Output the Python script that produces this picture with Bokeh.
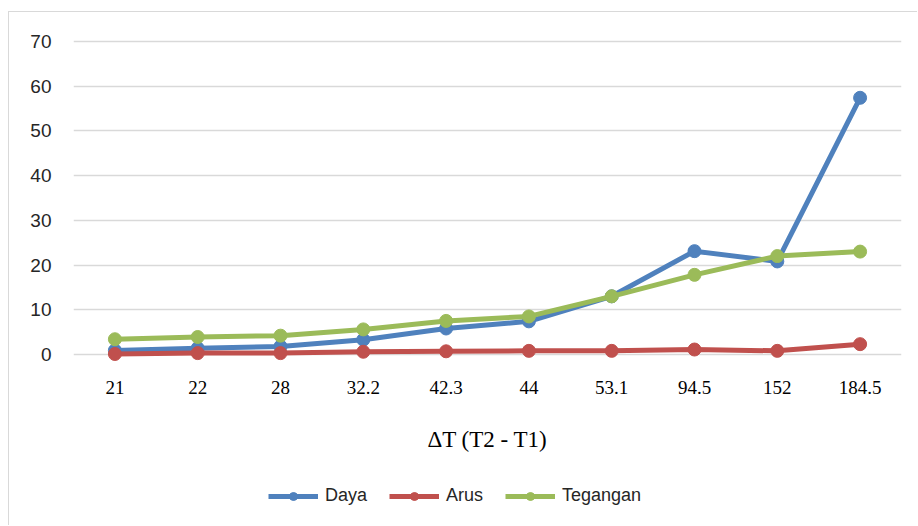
from bokeh.plotting import figure
from bokeh.models import FactorRange, Range1d, FixedTicker, Legend, LegendItem, Label
from bokeh.core.properties import value
from bokeh.embed import file_html
from bokeh.resources import INLINE

categories = ["21", "22", "28", "32.2", "42.3", "44", "53.1", "94.5", "152", "184.5"]
daya = [0.9, 1.4, 1.8, 3.3, 5.8, 7.4, 13.0, 23.1, 20.8, 57.4]
arus = [0.1, 0.3, 0.3, 0.6, 0.7, 0.8, 0.8, 1.1, 0.8, 2.3]
tegangan = [3.4, 3.9, 4.2, 5.6, 7.5, 8.5, 13.0, 17.8, 22.0, 23.0]
y_ticks = [0, 10, 20, 30, 40, 50, 60, 70]
series_names = ["Daya", "Arus", "Tegangan"]
colors = ["#4F81BD", "#C0504D", "#9BBB59"]
x_title = "\u0394T (T2 - T1)"

PX_PER_UNIT = 4.4714
FRAME_H = 494
Y_TOP = 72

p = figure(width=909, height=514,
           x_range=FactorRange(*categories, range_padding=0, factor_padding=0),
           y_range=Range1d(Y_TOP - FRAME_H / PX_PER_UNIT, Y_TOP),
           output_backend="svg", toolbar_location=None,
           min_border_left=64, min_border_right=17,
           min_border_top=20, min_border_bottom=0)
p.styles = {"margin-left": "8px", "margin-top": "11px",
            "border-left": "1px solid #d9d9d9", "border-top": "1px solid #d9d9d9"}
p.outline_line_color = None
p.background_fill_color = "white"
p.border_fill_color = "white"

p.xgrid.grid_line_color = None
p.ygrid.grid_line_color = "#D9D9D9"
p.ygrid.grid_line_width = 1.3

p.yaxis.ticker = FixedTicker(ticks=y_ticks)
p.yaxis.axis_line_color = None
p.yaxis.major_tick_line_color = None
p.yaxis.minor_tick_line_color = None
p.yaxis.major_tick_out = 0
p.yaxis.major_label_standoff = 22
p.yaxis.major_label_text_font = "Liberation Sans"
p.yaxis.major_label_text_font_size = "19px"
p.yaxis.major_label_text_color = "#262626"

p.xaxis.visible = False

# category labels drawn through the categorical x scale
p.text(x=categories, y=[-7.4] * len(categories), text=categories,
       text_align="center", text_baseline="middle",
       text_font=value("Liberation Serif"), text_font_size="19px",
       text_color="#000000")

title = Label(x=414, x_units="screen", y=-19.0, y_units="data", text=x_title,
              text_align="center", text_baseline="middle",
              text_font="Liberation Serif", text_font_size="23px",
              text_color="#000000")
p.add_layout(title)

items = []
for name, vals, c in zip(series_names, [daya, arus, tegangan], colors):
    l = p.line(categories, vals, line_width=5, color=c)
    s = p.scatter(categories, vals, size=13, color=c)
    items.append(LegendItem(label=name, renderers=[l, s]))

legend = Legend(items=items, orientation="horizontal", location=(195, 20),
                padding=0, margin=0, spacing=22, label_standoff=7,
                glyph_width=50, glyph_height=20,
                label_text_font="Liberation Sans", label_text_font_size="18px",
                label_text_color="#262626",
                border_line_color=None, background_fill_alpha=0)
p.add_layout(legend)

open("out.html", "w").write(file_html(p, INLINE))
